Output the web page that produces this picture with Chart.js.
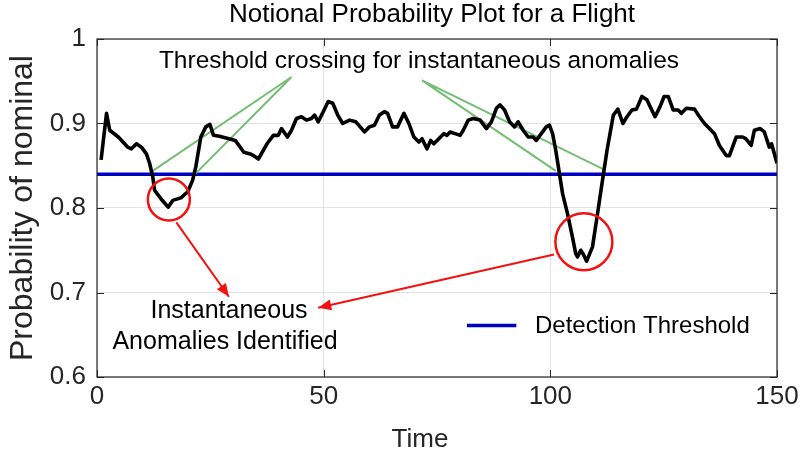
<!DOCTYPE html>
<html>
<head>
<meta charset="utf-8">
<script src="https://cdn.jsdelivr.net/npm/chart.js@4.4.1/dist/chart.umd.min.js"></script>
<style>
html,body{margin:0;padding:0;background:#fff;}
#wrap{width:808px;height:463px;position:relative;}
</style>
</head>
<body>
<div id="wrap"><canvas id="c" width="808" height="463"></canvas></div>
<script>
// ---- data ----
const timeValues = [0.9,2.1,2.8,4.7,6.8,7.6,8.7,9.8,10.9,11.6,12.3,12.7,14.1,15.7,16.7,18.5,20.0,21.1,21.8,22.9,24.0,24.9,25.7,27.0,29.1,30.5,32.4,33.8,34.5,35.6,37.5,38.9,40.0,40.7,42.0,42.9,44.0,45.1,46.2,47.3,48.0,48.8,49.9,51.0,52.0,53.1,54.2,55.7,57.1,59.0,60.1,61.2,62.3,63.4,64.1,65.2,66.3,67.7,68.8,69.9,71.0,71.7,72.8,73.6,74.3,75.4,76.5,77.2,77.9,79.0,80.1,80.8,81.9,83.0,84.5,85.9,87.0,88.1,88.9,89.9,91.0,92.1,92.9,94.0,95.1,96.2,96.9,98.0,99.1,99.8,100.5,101.2,102.0,102.7,103.8,104.9,105.6,106.0,106.7,107.2,108.0,109.3,110.4,111.4,112.5,113.9,114.9,116.0,116.9,118.0,119.0,120.2,121.3,122.0,123.1,124.2,125.1,126.0,127.1,128.2,128.9,130.0,131.8,132.9,134.0,135.1,136.2,137.3,138.8,139.5,141.0,142.4,143.1,144.3,145.0,146.3,147.2,148.3,148.8,150.0];
const probValues = [0.857,0.912,0.892,0.884,0.872,0.870,0.876,0.872,0.864,0.853,0.837,0.821,0.811,0.801,0.809,0.812,0.819,0.833,0.849,0.884,0.896,0.899,0.886,0.885,0.882,0.880,0.866,0.864,0.862,0.858,0.876,0.886,0.886,0.894,0.884,0.892,0.906,0.908,0.904,0.906,0.910,0.902,0.914,0.926,0.924,0.910,0.900,0.904,0.902,0.890,0.896,0.898,0.910,0.914,0.912,0.896,0.896,0.912,0.900,0.884,0.878,0.882,0.870,0.880,0.876,0.882,0.888,0.886,0.890,0.888,0.886,0.892,0.904,0.906,0.904,0.894,0.902,0.918,0.922,0.916,0.902,0.896,0.902,0.892,0.884,0.884,0.880,0.888,0.896,0.898,0.888,0.868,0.841,0.817,0.793,0.765,0.746,0.742,0.750,0.746,0.737,0.754,0.793,0.829,0.868,0.910,0.917,0.900,0.908,0.916,0.917,0.932,0.928,0.920,0.908,0.920,0.932,0.932,0.916,0.916,0.912,0.918,0.917,0.908,0.900,0.894,0.888,0.874,0.862,0.862,0.884,0.884,0.882,0.874,0.892,0.894,0.890,0.872,0.876,0.853];
const thresholdValue = 0.84;
const xTicks = [0, 50, 100, 150];
const xTickLabels = ['0', '50', '100', '150'];
const yTicks = [0.6, 0.7, 0.8, 0.9, 1];
// annotation anchors (data coordinates)
const greenLeftApex = [42.9, 0.955];
const greenLeftEnds = [[12.3, 0.844], [21.8, 0.841]];
const greenRightApex = [71.7, 0.951];
const greenRightEnds = [[101.2, 0.844], [112.0, 0.845]];
const circleCenters = [[15.85, 0.810], [107.4, 0.760]];
const circleRadii = [21, 28.5];
const arrowLeft = [[17.5, 0.783], [29.1, 0.695]];
const arrowRight = [[100.8, 0.745], [48.8, 0.682]];
const legendLine = [[81.6, 0.661], [92.5, 0.661]];

const curve = timeValues.map((t, i) => ({x: t, y: probValues[i]}));
const pts = a => a.map(p => ({x: p[0], y: p[1]}));
const GREEN = '#74bd74';
const RED = '#f21010';
const FONT = '"Liberation Sans", Arial, Helvetica, sans-serif';

const datasets = [
  {data: [{x:0,y:thresholdValue},{x:150,y:thresholdValue}], borderColor:'#0000c0', borderWidth:3.5, pointRadius:0, order:3},
  {data: pts([greenLeftEnds[0], greenLeftApex, greenLeftEnds[1]]), borderColor:GREEN, borderWidth:2, pointRadius:0, order:2},
  {data: pts([greenRightEnds[0], greenRightApex, greenRightEnds[1]]), borderColor:GREEN, borderWidth:2, pointRadius:0, order:2},
  {data: curve, borderColor:'#000', borderWidth:3.6, pointRadius:0, order:1, borderJoinStyle:'round'},
  {data: pts([circleCenters[0]]), showLine:false, pointRadius:circleRadii[0], pointStyle:'circle', borderColor:RED, borderWidth:2.5, backgroundColor:'rgba(0,0,0,0)', order:0},
  {data: pts([circleCenters[1]]), showLine:false, pointRadius:circleRadii[1], pointStyle:'circle', borderColor:RED, borderWidth:2.5, backgroundColor:'rgba(0,0,0,0)', order:0},
  {data: pts(arrowLeft), borderColor:RED, borderWidth:2, pointRadius:0, order:0},
  {data: pts(arrowRight), borderColor:RED, borderWidth:2, pointRadius:0, order:0},
  {data: pts(legendLine), borderColor:'#0000c0', borderWidth:3.5, pointRadius:0, order:0}
];

const decor = {
  id: 'decor',
  afterDatasetsDraw(chart) {
    const ctx = chart.ctx, xs = chart.scales.x, ys = chart.scales.y, a = chart.chartArea;
    ctx.save();
    // arrowheads
    [arrowLeft, arrowRight].forEach(ar => {
      const x0 = xs.getPixelForValue(ar[0][0]), y0 = ys.getPixelForValue(ar[0][1]);
      const x1 = xs.getPixelForValue(ar[1][0]), y1 = ys.getPixelForValue(ar[1][1]);
      const ang = Math.atan2(y1 - y0, x1 - x0), L = 13, W = 5.5;
      ctx.fillStyle = RED;
      ctx.beginPath();
      ctx.moveTo(x1, y1);
      ctx.lineTo(x1 - L*Math.cos(ang) + W*Math.sin(ang), y1 - L*Math.sin(ang) - W*Math.cos(ang));
      ctx.lineTo(x1 - L*Math.cos(ang) - W*Math.sin(ang), y1 - L*Math.sin(ang) + W*Math.cos(ang));
      ctx.closePath();
      ctx.fill();
    });
    // inward tick marks on all four sides
    ctx.strokeStyle = '#262626';
    ctx.lineWidth = 1;
    xTicks.forEach(v => {
      const px = Math.round(xs.getPixelForValue(v)) + 0.5;
      ctx.beginPath(); ctx.moveTo(px, a.bottom); ctx.lineTo(px, a.bottom - 7); ctx.stroke();
      ctx.beginPath(); ctx.moveTo(px, a.top); ctx.lineTo(px, a.top + 7); ctx.stroke();
    });
    yTicks.forEach(v => {
      const py = Math.round(ys.getPixelForValue(v)) + 0.5;
      ctx.beginPath(); ctx.moveTo(a.left, py); ctx.lineTo(a.left + 7, py); ctx.stroke();
      ctx.beginPath(); ctx.moveTo(a.right, py); ctx.lineTo(a.right - 7, py); ctx.stroke();
    });
    // box
    ctx.strokeStyle = '#262626';
    ctx.lineWidth = 1.2;
    ctx.strokeRect(a.left, a.top, a.right - a.left, a.bottom - a.top);
    // x tick labels (positions from the x scale)
    ctx.fillStyle = '#262626';
    ctx.font = '26px ' + FONT;
    ctx.textBaseline = 'middle';
    ctx.textAlign = 'center';
    xTicks.forEach((v, i) => ctx.fillText(xTickLabels[i], xs.getPixelForValue(v), a.bottom + 20));
    // texts
    ctx.fillStyle = '#000';
    ctx.font = '24.5px ' + FONT;
    ctx.fillText('Threshold crossing for instantaneous anomalies', 419, 61);
    ctx.font = '25px ' + FONT;
    ctx.fillText('Instantaneous', 229, 311);
    ctx.fillText('Anomalies Identified', 225, 342);
    ctx.textAlign = 'left';
    ctx.font = '24px ' + FONT;
    ctx.fillText('Detection Threshold', 535, 326);
    // title
    ctx.font = '26px ' + FONT;
    ctx.textAlign = 'center';
    ctx.fillText('Notional Probability Plot for a Flight', 432, 15);
    // x axis title
    ctx.fillStyle = '#262626';
    ctx.font = '26px ' + FONT;
    ctx.fillText('Time', 420, 440);
    ctx.restore();
  }
};

new Chart(document.getElementById('c'), {
  type: 'line',
  data: {datasets},
  plugins: [decor],
  options: {
    responsive: false,
    animation: false,
    devicePixelRatio: 1,
    layout: {padding: {top: 39, right: 25, left: 0, bottom: 0}},
    plugins: {legend: {display: false}, tooltip: {enabled: false}, title: {display: false}},
    scales: {
      x: {
        type: 'linear', min: 0, max: 150,
        afterBuildTicks: s => { s.ticks = xTicks.map(v => ({value: v})); },
        afterFit: s => { s.height = 86; },
        grid: {color: '#e3e3e3', drawTicks: false, lineWidth: 1},
        border: {display: false},
        ticks: {display: false},
        title: {display: false}
      },
      y: {
        type: 'linear', min: 0.6, max: 1,
        afterBuildTicks: s => { s.ticks = yTicks.map(v => ({value: v})); },
        afterFit: s => { s.width = 97; },
        grid: {color: '#e3e3e3', drawTicks: false, lineWidth: 1},
        border: {display: false},
        ticks: {color: '#262626', font: {family: FONT, size: 26}, padding: 11, callback: v => String(v)},
        title: {display: true, text: 'Probability of nominal', color: '#262626', font: {family: FONT, size: 32}, padding: {top: 4, bottom: 0}}
      }
    }
  }
});
</script>
</body>
</html>
